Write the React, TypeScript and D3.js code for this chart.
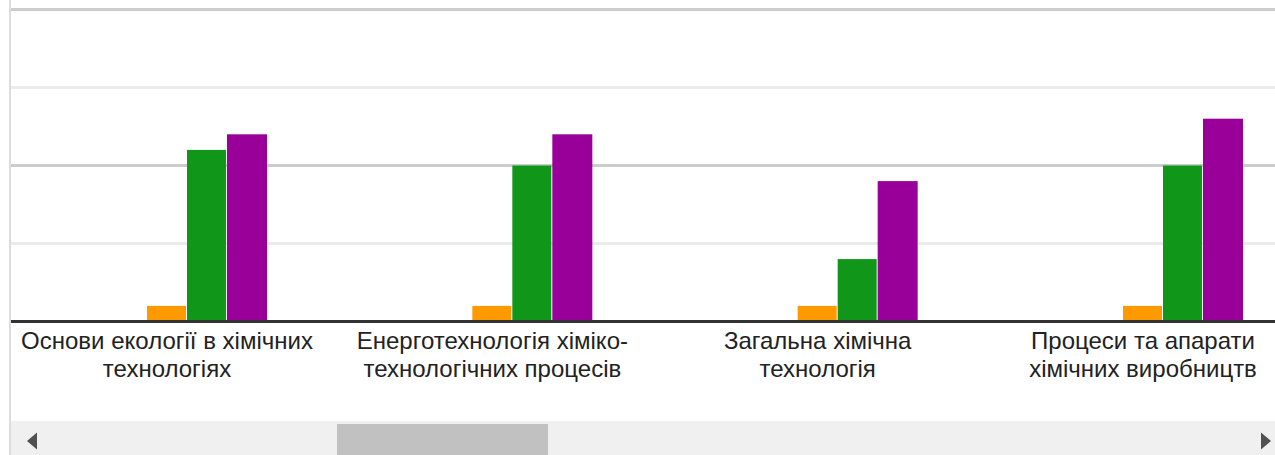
import React from 'react';
import * as d3 from 'd3';

// visible part of the scrolled column chart
const categoryLines: string[][] = [
  ['Основи екології в хімічних', 'технологіях'],
  ['Енерготехнологія хіміко-', 'технологічних процесів'],
  ['Загальна хімічна', 'технологія'],
  ['Процеси та апарати', 'хімічних виробництв'],
];
const categories = categoryLines.map((l) => l.join(' '));

const seriesNames = ['s1', 's2', 's3', 's4', 's5'];
const seriesColors = ['#3366cc', '#dc3912', '#ff9900', '#109618', '#990099'];

const s1 = [0, 0, 0, 0];
const s2 = [0, 0, 0, 0];
const s3 = [1, 1, 1, 1];
const s4 = [11, 10, 4, 10];
const s5 = [12, 12, 9, 13];
const seriesValues = [s1, s2, s3, s4, s5];

const yTicks = [0, 5, 10, 15, 20];

const W = 1275, H = 455;

const App = () => {
  const y = d3.scaleLinear().domain([0, 20]).range([321.5, 9.5]);
  const x = d3.scalePoint<string>().domain(categories).range([167, 1143]);
  const xs = d3.scaleBand<string>().domain(seriesNames).range([-100, 100]);

  return (
    <svg width={W} height={H} style={{ position: 'absolute', left: 0, top: 0, fontFamily: 'Arial, "Liberation Sans", sans-serif' }}>
      <rect x={0} y={0} width={W} height={H} fill="#fff" />
      {yTicks.filter((t) => t > 0).map((t) => (
        <rect key={t} x={11} y={y(t) - 1.5} width={W - 11} height={3}
          fill={t % 10 === 0 ? '#cccccc' : '#ebebeb'} />
      ))}
      {categories.map((c, i) => (
        <g key={c} transform={`translate(${x(c)},0)`}>
          {seriesNames.map((s, j) => {
            const v = seriesValues[j][i];
            if (!v) return null;
            const last = j === seriesNames.length - 1;
            return (
              <rect key={s} x={xs(s)!} y={y(v)} width={xs.bandwidth() - (last ? 0 : 1)}
                height={y(0) - y(v)} fill={seriesColors[j]} />
            );
          })}
          {categoryLines[i].map((line, k) => (
            <text key={k} x={0} y={349 + k * 28} textAnchor="middle"
              fontSize={24} fill="#222">{line}</text>
          ))}
        </g>
      ))}
      <rect x={11} y={y(0) - 1.5} width={W - 11} height={3} fill="#333" />
      {/* horizontal scrollbar */}
      <rect x={11} y={421} width={W - 11} height={H - 421} fill="#f0f0f0" />
      <rect x={337} y={424} width={211} height={H - 424} fill="#c1c1c1" />
      <path d="M37,432.5 L27,441 L37,449.5 Z" fill="#505050" />
      <path d="M1261,432.5 L1271,441 L1261,449.5 Z" fill="#505050" />
      <rect x={9} y={0} width={2} height={H} fill="#dadce0" />
    </svg>
  );
};

export default App;
